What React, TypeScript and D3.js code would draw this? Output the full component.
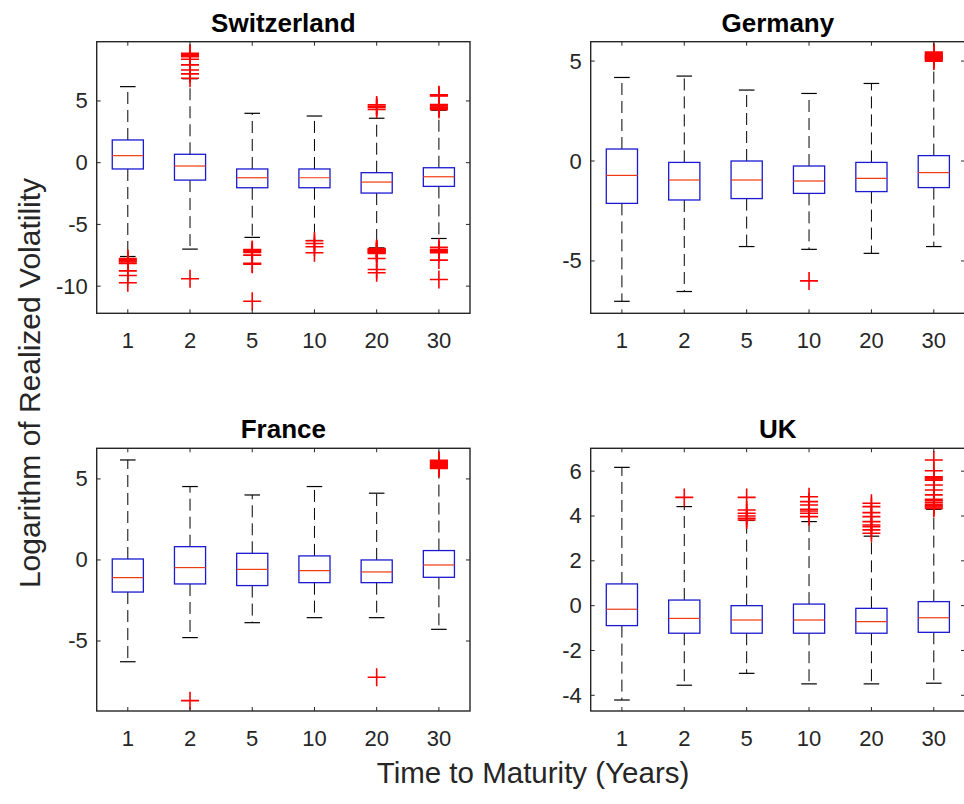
import React from 'react';
import * as d3 from 'd3';

const maturities = ['1', '2', '5', '10', '20', '30'];

// Box statistics per maturity: [lower whisker, q1, median, q3, upper whisker]
const switzerlandStats = [
  [-7.6, -0.51, 0.57, 1.84, 6.16],
  [-7.0, -1.41, -0.27, 0.68, 6.8],
  [-6.05, -2.03, -1.22, -0.51, 4.0],
  [-6.3, -2.03, -1.22, -0.51, 3.78],
  [-6.9, -2.46, -1.57, -0.81, 3.6],
  [-6.14, -1.92, -1.14, -0.41, 4.25],
];
const switzerlandOutliers = [
  [-7.76, -7.85, -7.95, -8.05, -8.16, -8.76, -9.14, -9.73],
  [8.86, 8.8, 8.73, 8.65, 8.59, 8.38, 7.92, 7.51, 7.19, 6.84, -9.4],
  [-7.03, -7.1, -7.2, -7.27, -7.49, -8.16, -8.22, -11.22],
  [-6.32, -6.55, -6.81, -7.3],
  [4.68, 4.55, 4.49, 4.32, -6.95, -7.0, -7.05, -7.1, -7.15, -7.2, -7.25, -7.3, -7.35, -7.76, -8.65, -8.92],
  [5.5, 5.45, 5.4, 4.7, 4.6, 4.5, 4.45, 4.4, 4.3, -6.86, -7.03, -7.12, -7.2, -7.3, -7.89, -9.46],
];
const switzerlandTicks = [-10, -5, 0, 5];

const germanyStats = [
  [-7.02, -2.12, -0.72, 0.6, 4.18],
  [-6.53, -1.95, -0.95, -0.07, 4.25],
  [-4.28, -1.88, -0.95, 0.0, 3.55],
  [-4.42, -1.62, -1.0, -0.25, 3.38],
  [-4.62, -1.53, -0.87, -0.07, 3.88],
  [-4.28, -1.33, -0.58, 0.27, 5.0],
];
const germanyOutliers = [
  [],
  [],
  [],
  [-6.0],
  [],
  [5.0, 5.05, 5.1, 5.12, 5.15, 5.18, 5.2, 5.22, 5.25, 5.28, 5.3, 5.35, 5.4, 5.45],
];
const germanyTicks = [-5, 0, 5];

const franceStats = [
  [-6.28, -1.98, -1.09, 0.06, 6.17],
  [-4.79, -1.48, -0.47, 0.82, 4.53],
  [-3.87, -1.58, -0.58, 0.41, 4.01],
  [-3.56, -1.4, -0.66, 0.25, 4.53],
  [-3.56, -1.4, -0.74, 0.0, 4.12],
  [-4.28, -1.07, -0.31, 0.58, 5.65],
];
const franceOutliers = [
  [],
  [-8.68],
  [],
  [],
  [-7.24],
  [5.65, 5.7, 5.75, 5.8, 5.85, 5.9, 5.95, 6.0, 6.05, 6.1, 6.15],
];
const franceTicks = [-5, 0, 5];

const ukStats = [
  [-4.21, -0.89, -0.16, 0.97, 6.17],
  [-3.55, -1.23, -0.57, 0.25, 4.42],
  [-3.02, -1.23, -0.64, 0.0, 3.8],
  [-3.49, -1.23, -0.64, 0.07, 3.75],
  [-3.49, -1.23, -0.71, -0.12, 3.1],
  [-3.46, -1.19, -0.54, 0.18, 4.3],
];
const ukOutliers = [
  [],
  [4.83],
  [4.83, 4.27, 4.12, 4.0, 3.9, 3.82],
  [4.86, 4.64, 4.49, 4.3, 4.22, 4.12, 3.97],
  [4.57, 4.42, 4.15, 3.97, 3.75, 3.6, 3.52, 3.38, 3.23],
  [6.5, 6.02, 5.75, 5.7, 5.65, 5.6, 5.38, 5.16, 4.94, 4.74, 4.68, 4.6, 4.52, 4.45, 4.4, 4.34],
];
const ukTicks = [-4, -2, 0, 2, 4, 6];

const FONT = '"Liberation Sans", Arial, Helvetica, sans-serif';
const TEXT = '#262626';

type PanelProps = {
  title: string;
  stats: number[][];
  outliers: number[][];
  domain: [number, number];
  ticks: number[];
  left: number;
  right: number;
  top: number;
  bottom: number;
};

function Panel({ title, stats, outliers, domain, ticks, left, right, top, bottom }: PanelProps) {
  const x = d3.scalePoint<string>().domain(maturities).range([left, right]).padding(0.5);
  const y = d3.scaleLinear().domain(domain).range([bottom, top]);
  const step = x.step();
  const boxW = step * 0.5;
  const capW = step * 0.25;
  const tickLen = 4;
  const cross = 9;

  return (
    <g>
      <rect x={left} y={top} width={right - left} height={bottom - top} fill="#fff" />
      {maturities.map((m, i) => {
        const cx = x(m)!;
        const [lo, q1, med, q3, hi] = stats[i];
        return (
          <g key={m}>
            <line x1={cx} x2={cx} y1={y(q3)} y2={y(hi)} stroke="#000" strokeWidth={1} strokeDasharray="12,6" />
            <line x1={cx} x2={cx} y1={y(q1)} y2={y(lo)} stroke="#000" strokeWidth={1} strokeDasharray="12,6" />
            <line x1={cx - capW / 2} x2={cx + capW / 2} y1={y(hi)} y2={y(hi)} stroke="#000" strokeWidth={1.2} />
            <line x1={cx - capW / 2} x2={cx + capW / 2} y1={y(lo)} y2={y(lo)} stroke="#000" strokeWidth={1.2} />
            <rect x={cx - boxW / 2} y={y(q3)} width={boxW} height={y(q1) - y(q3)} fill="none" stroke="#1a1ad0" strokeWidth={1.3} />
            <line x1={cx - boxW / 2} x2={cx + boxW / 2} y1={y(med)} y2={y(med)} stroke="#f03a10" strokeWidth={1.2} />
            {outliers[i].map((v, k) => (
              <path
                key={k}
                d={`M${cx - cross},${y(v)}H${cx + cross}M${cx},${y(v) - cross}V${y(v) + cross}`}
                stroke="#ff0000"
                strokeWidth={1.6}
                fill="none"
              />
            ))}
          </g>
        );
      })}
      {/* tick marks point inward on all four sides */}
      {ticks.map((t) => (
        <g key={t}>
          <line x1={left} x2={left + tickLen} y1={y(t)} y2={y(t)} stroke={TEXT} strokeWidth={1} />
          <line x1={right} x2={right - tickLen} y1={y(t)} y2={y(t)} stroke={TEXT} strokeWidth={1} />
          <text x={left - 9} y={y(t)} textAnchor="end" dominantBaseline="central" fontSize={22} fontFamily={FONT} fill={TEXT}>
            {String(t)}
          </text>
        </g>
      ))}
      {maturities.map((m) => (
        <g key={m}>
          <line x1={x(m)} x2={x(m)} y1={bottom} y2={bottom - tickLen} stroke={TEXT} strokeWidth={1} />
          <line x1={x(m)} x2={x(m)} y1={top} y2={top + tickLen} stroke={TEXT} strokeWidth={1} />
          <text x={x(m)} y={bottom + 35} textAnchor="middle" fontSize={22} fontFamily={FONT} fill={TEXT}>
            {m}
          </text>
        </g>
      ))}
      <rect x={left} y={top} width={right - left} height={bottom - top} fill="none" stroke={TEXT} strokeWidth={1.4} />
      <text x={(left + right) / 2} y={top - 10} textAnchor="middle" fontSize={26} fontWeight="bold" fontFamily={FONT} fill="#000">
        {title}
      </text>
    </g>
  );
}

export default function App() {
  const W = 964;
  const H = 804;
  const colL = [96.7, 470];
  const colR = [590.7, 965];
  const rowT = [41.7, 313.3];
  const rowB = [448.3, 711];
  return (
    <svg width={W} height={H} style={{ position: 'absolute', left: 0, top: 0, background: '#fff' }}>
      <rect width={W} height={H} fill="#fff" />
      <Panel title="Switzerland" stats={switzerlandStats} outliers={switzerlandOutliers} domain={[-12.2, 9.8]} ticks={switzerlandTicks} left={colL[0]} right={colL[1]} top={rowT[0]} bottom={rowT[1]} />
      <Panel title="Germany" stats={germanyStats} outliers={germanyOutliers} domain={[-7.62, 5.97]} ticks={germanyTicks} left={colR[0]} right={colR[1]} top={rowT[0]} bottom={rowT[1]} />
      <Panel title="France" stats={franceStats} outliers={franceOutliers} domain={[-9.32, 6.89]} ticks={franceTicks} left={colL[0]} right={colL[1]} top={rowB[0]} bottom={rowB[1]} />
      <Panel title="UK" stats={ukStats} outliers={ukOutliers} domain={[-4.7, 7.02]} ticks={ukTicks} left={colR[0]} right={colR[1]} top={rowB[0]} bottom={rowB[1]} />
      <text x={533} y={783} textAnchor="middle" fontSize={29.5} fontFamily={FONT} fill={TEXT}>
        Time to Maturity (Years)
      </text>
      <text transform="translate(40,383) rotate(-90)" textAnchor="middle" fontSize={30} fontFamily={FONT} fill={TEXT}>
        Logarithm of Realized Volatility
      </text>
    </svg>
  );
}
